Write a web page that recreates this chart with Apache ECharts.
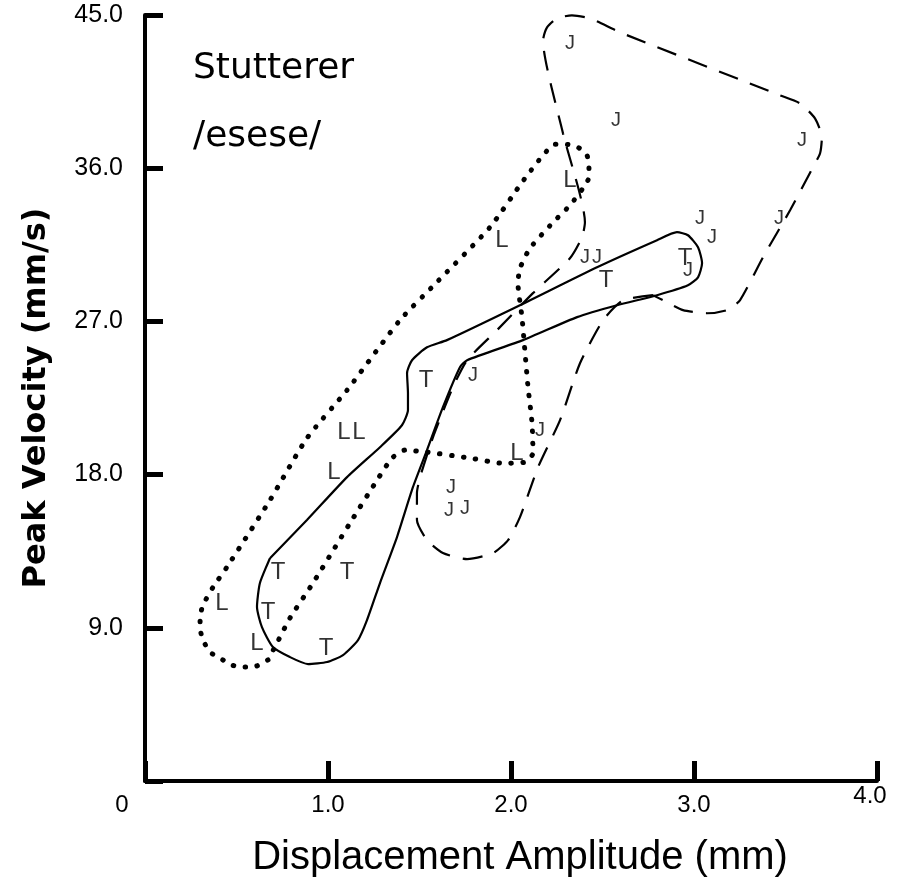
<!DOCTYPE html>
<html>
<head>
<meta charset="utf-8">
<title>Stutterer /esese/</title>
<script src="https://cdn.jsdelivr.net/npm/echarts@6/dist/echarts.min.js"></script>
<style>
  html, body { margin: 0; padding: 0; background: #fff; }
  #chart { width: 900px; height: 883px; }
</style>
</head>
<body>
<div id="chart"></div>
<script>
// [displacement amplitude (mm), peak velocity (mm/s)]
// dotted outline round the L tokens
var lOutline = [
  [0.672, 7.11], [0.590, 6.69], [0.530, 6.69], [0.475, 6.81], [0.410, 7.22],
  [0.355, 7.57], [0.317, 8.28], [0.301, 8.98], [0.301, 9.63], [0.317, 10.33],
  [0.372, 11.39], [0.448, 12.57], [0.683, 16.50], [0.885, 20.14], [1.104, 22.96],
  [1.393, 27.07], [1.568, 29.01], [1.885, 32.53], [2.060, 35.17], [2.175, 36.76],
  [2.240, 37.40], [2.306, 37.40], [2.366, 37.23], [2.415, 36.76], [2.426, 36.05],
  [2.426, 35.47], [2.393, 34.82], [2.322, 33.82], [2.230, 32.82], [2.104, 31.30],
  [2.049, 30.12], [2.038, 29.24], [2.060, 27.25], [2.077, 25.13], [2.093, 23.14],
  [2.115, 21.02], [2.120, 19.26], [2.077, 18.73], [1.956, 18.67], [1.776, 18.97],
  [1.541, 19.32], [1.421, 19.44], [1.350, 18.97], [1.268, 17.67], [1.120, 15.15],
  [0.918, 11.63], [0.792, 9.57], [0.721, 8.10]
];
// solid outline round the T tokens
var tOutline = [
  [0.683, 13.09], [0.885, 15.33], [1.104, 17.85], [1.284, 19.61], [1.404, 20.90],
  [1.437, 21.79], [1.437, 22.78], [1.432, 23.96], [1.459, 24.72], [1.541, 25.48],
  [1.650, 25.90], [2.049, 27.95], [2.470, 30.18], [2.798, 31.77], [2.907, 32.24],
  [2.967, 32.06], [3.022, 31.36], [3.044, 30.42], [3.022, 29.59], [2.967, 29.12],
  [2.798, 28.54], [2.579, 27.95], [2.361, 27.25], [2.066, 25.90], [1.760, 24.72],
  [1.721, 24.31], [1.628, 21.96], [1.541, 19.44], [1.464, 17.26], [1.377, 14.33],
  [1.284, 11.63], [1.213, 9.45], [1.164, 8.28], [1.082, 7.40], [0.995, 6.99],
  [0.891, 6.87], [0.792, 7.28], [0.699, 7.87], [0.639, 9.04], [0.612, 10.22],
  [0.628, 11.63]
];
// dashed outline round the J tokens
var jOutline = [
  [2.776, 28.54], [2.612, 28.24], [2.503, 27.07], [2.377, 24.54], [2.268, 21.20],
  [2.148, 18.44], [2.049, 15.50], [1.984, 14.15], [1.902, 13.39], [1.760, 13.04],
  [1.628, 13.39], [1.541, 14.15], [1.486, 15.33], [1.486, 16.91], [1.503, 17.85],
  [1.574, 20.20], [1.683, 23.14], [1.760, 24.72], [1.923, 26.48], [2.120, 28.66],
  [2.322, 30.71], [2.388, 31.94], [2.404, 32.82], [2.284, 38.05], [2.175, 43.51],
  [2.197, 44.27], [2.251, 44.80], [2.333, 44.98], [2.432, 44.80], [2.596, 43.98],
  [3.470, 40.28], [3.579, 39.81], [3.661, 38.93], [3.699, 37.82], [3.689, 36.88],
  [3.650, 36.05], [3.525, 33.53], [3.377, 30.77], [3.251, 28.24], [3.180, 27.66],
  [3.071, 27.48], [2.940, 27.66], [2.831, 28.24]
];

var lTokens = [
  [0.421, 10.45], [0.612, 8.10], [1.033, 18.14], [1.087, 20.49], [1.169, 20.49],
  [1.951, 31.77], [2.322, 35.29], [2.033, 19.26]
];
var tTokens = [
  [0.727, 12.27], [1.104, 12.27], [0.672, 9.92], [0.989, 7.81], [1.536, 23.55],
  [2.519, 29.42], [2.951, 30.71]
];
var jTokens = [
  [1.792, 23.84], [2.158, 20.61], [1.672, 17.26], [1.661, 15.91], [1.749, 16.03],
  [2.404, 30.77], [2.470, 30.77], [2.967, 30.00], [3.033, 33.06], [3.098, 31.94],
  [2.322, 43.34], [2.574, 38.81], [3.590, 37.64], [3.464, 33.06]
];

var xTickLabels = ['{z|0}', '1.0', '2.0', '3.0', '{f|4.0}'];

var chart = echarts.init(document.getElementById('chart'));

function outline(pts, type, width, cap) {
  return {
    type: 'line',
    data: pts.concat([pts[0]]),
    symbol: 'none',
    smooth: 0.2,
    silent: true,
    lineStyle: { color: '#000', width: width, type: type, cap: cap }
  };
}

function tokens(letter, pts, size) {
  return {
    type: 'scatter',
    data: pts,
    symbolSize: 1,
    itemStyle: { color: 'rgba(0,0,0,0)' },
    silent: true,
    z: 5,
    label: {
      show: true,
      position: 'inside',
      formatter: letter,
      color: '#000',
      fontFamily: 'Liberation Sans',
      fontSize: size
    }
  };
}

var option = {
  animation: false,
  backgroundColor: '#fff',
  grid: { left: 145, right: 23, top: 15, bottom: 102 },
  xAxis: {
    type: 'value',
    min: 0, max: 4, interval: 1,
    name: 'Displacement Amplitude (mm)',
    nameLocation: 'middle',
    nameGap: 57,
    nameTextStyle: { fontFamily: 'Liberation Sans', fontSize: 40, color: '#000', padding: [0, 0, 0, 18] },
    axisLine: { onZero: false, lineStyle: { color: '#000', width: 4 } },
    axisTick: { inside: true, length: 20, lineStyle: { color: '#000', width: 5 } },
    splitLine: { show: false },
    axisLabel: {
      margin: 24,
      verticalAlign: 'middle',
      fontFamily: 'Liberation Sans', fontSize: 24, color: '#000',
      formatter: function (v) { return xTickLabels[Math.round(v)]; },
      rich: {
        z: { fontFamily: 'Liberation Sans', fontSize: 24, color: '#000', padding: [0, 46, 0, 0] },
        f: { fontFamily: 'Liberation Sans', fontSize: 24, color: '#000', padding: [0, 14, 18, 0] }
      }
    }
  },
  yAxis: {
    type: 'value',
    min: 0, max: 45, interval: 9,
    name: 'Peak Velocity (mm/s)',
    nameLocation: 'middle',
    nameGap: 92,
    nameTextStyle: { fontFamily: 'DejaVu Sans', fontWeight: 'bold', fontSize: 32, color: '#000' },
    axisLine: { onZero: false, lineStyle: { color: '#000', width: 4 } },
    axisTick: { inside: true, length: 18, lineStyle: { color: '#000', width: 5 } },
    splitLine: { show: false },
    axisLabel: {
      margin: 22,
      fontFamily: 'Liberation Sans', fontSize: 25, color: '#000',
      formatter: function (v) { return v === 0 ? '' : v.toFixed(1); }
    }
  },
  graphic: [
    { type: 'text', left: 193, top: 51, style: { text: 'Stutterer', font: '36px "DejaVu Sans"', fill: '#000' } },
    { type: 'text', left: 193, top: 119, style: { text: '/esese/', font: '36px "DejaVu Sans"', fill: '#000' } }
  ],
  series: [
    outline(lOutline, [0.5, 11.5], 5, 'round'),
    outline(tOutline, 'solid', 2.2, 'butt'),
    outline(jOutline, [20, 13], 2.2, 'butt'),
    tokens('L', lTokens, 24),
    tokens('T', tTokens, 24),
    tokens('J', jTokens, 20)
  ]
};

chart.setOption(option);
</script>
</body>
</html>
